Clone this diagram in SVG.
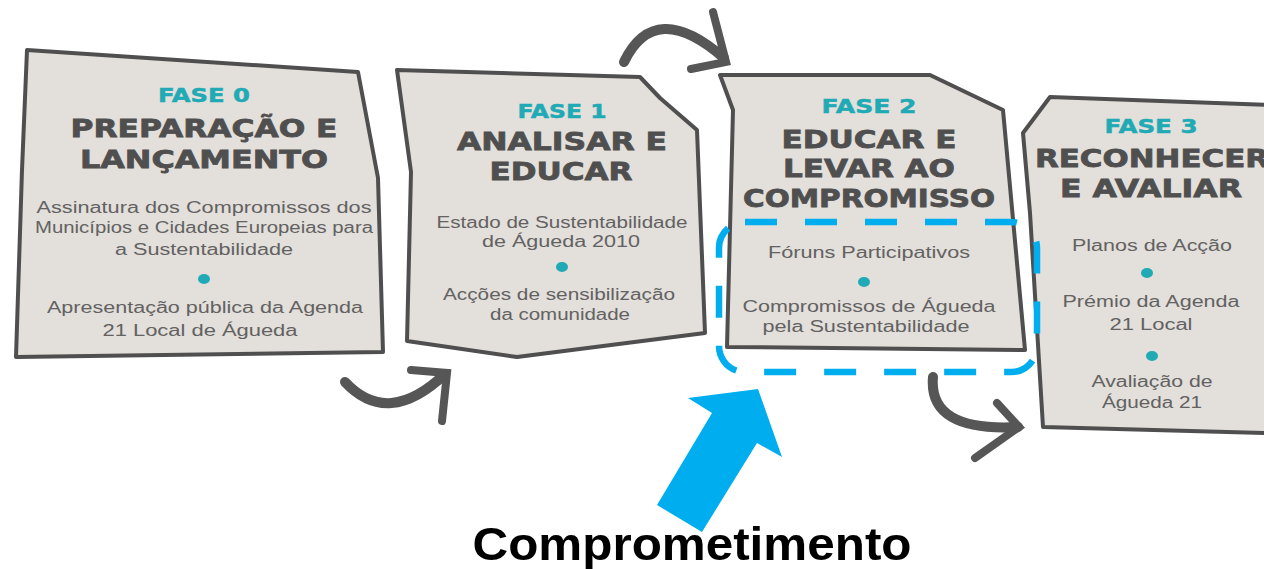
<svg xmlns="http://www.w3.org/2000/svg" width="1264" height="569" viewBox="0 0 1264 569">
<defs>
<style>
.card{fill:#e3dfda;stroke:#4f4f4f;stroke-width:4;stroke-linejoin:round}
.fase{font-family:"DejaVu Sans",sans-serif;font-weight:bold;font-size:20px;fill:#1faab5;stroke:#1faab5;stroke-width:0.5;text-anchor:middle}
.title{font-family:"DejaVu Sans",sans-serif;font-weight:bold;font-size:25.5px;fill:#4f4f4f;stroke:#4f4f4f;stroke-width:0.8;text-anchor:middle}
.body{font-family:"Liberation Sans",sans-serif;font-size:16px;fill:#626262;text-anchor:middle}
.dot{fill:#1faab5}
.arr{fill:none;stroke:#565656;stroke-width:10;stroke-linecap:round;stroke-linejoin:round}
.arrh{fill:none;stroke:#565656;stroke-width:8;stroke-linecap:round;stroke-linejoin:miter}
</style>
</defs>
<rect width="1264" height="569" fill="#ffffff"/>

<g id="connectors">
<path class="arr" d="M345,382 Q388,428 445,374"/>
<path class="arrh" d="M411,370 L447,373 L442,421"/>
<path class="arr" d="M624,62 Q655,-2 724,58"/>
<path class="arrh" d="M713,12 L726,62 L691,69"/>
<path class="arr" d="M933,377 Q928,432 1018,427"/>
<path class="arrh" d="M997,403 L1019,427 L975,458"/>
</g>

<g id="fase0">
<polygon class="card" points="27,50 358,72 378,178 383,352 16,357 22,170"/>
<text class="fase" x="204" y="102" textLength="92" lengthAdjust="spacingAndGlyphs">FASE 0</text>
<text class="title" x="204" y="137" textLength="267" lengthAdjust="spacingAndGlyphs">PREPARAÇÃO E</text>
<text class="title" x="204" y="168" textLength="248" lengthAdjust="spacingAndGlyphs">LANÇAMENTO</text>
<text class="body" x="204" y="213" textLength="335" lengthAdjust="spacingAndGlyphs">Assinatura dos Compromissos dos</text>
<text class="body" x="204" y="233" textLength="338" lengthAdjust="spacingAndGlyphs">Municípios e Cidades Europeias para</text>
<text class="body" x="204" y="255" textLength="178" lengthAdjust="spacingAndGlyphs">a Sustentabilidade</text>
<ellipse class="dot" cx="204" cy="279" rx="6" ry="5"/>
<text class="body" x="205" y="313" textLength="316" lengthAdjust="spacingAndGlyphs">Apresentação pública da Agenda</text>
<text class="body" x="200" y="336" textLength="195" lengthAdjust="spacingAndGlyphs">21 Local de Águeda</text>
</g>

<g id="fase1">
<polygon class="card" points="397,70 640,77 660,98 697,130 705,333 517,357 407,341 411,172"/>
<text class="fase" x="562" y="118" textLength="89" lengthAdjust="spacingAndGlyphs">FASE 1</text>
<text class="title" x="562" y="150" textLength="210" lengthAdjust="spacingAndGlyphs">ANALISAR E</text>
<text class="title" x="561" y="180" textLength="143" lengthAdjust="spacingAndGlyphs">EDUCAR</text>
<text class="body" x="562" y="228" textLength="251" lengthAdjust="spacingAndGlyphs">Estado de Sustentabilidade</text>
<text class="body" x="561" y="247" textLength="158" lengthAdjust="spacingAndGlyphs">de Águeda 2010</text>
<ellipse class="dot" cx="562" cy="267" rx="6" ry="5"/>
<text class="body" x="559" y="300" textLength="232" lengthAdjust="spacingAndGlyphs">Acções de sensibilização</text>
<text class="body" x="560" y="320" textLength="140" lengthAdjust="spacingAndGlyphs">da comunidade</text>
</g>

<g id="fase2">
<polygon class="card" points="720,75 930,75 1003,110 1025,350 727,347 733,110"/>
<text class="fase" x="869" y="113" textLength="95" lengthAdjust="spacingAndGlyphs">FASE 2</text>
<text class="title" x="869" y="148" textLength="175" lengthAdjust="spacingAndGlyphs">EDUCAR E</text>
<text class="title" x="869" y="177" textLength="172" lengthAdjust="spacingAndGlyphs">LEVAR AO</text>
<text class="title" x="869" y="207" textLength="252" lengthAdjust="spacingAndGlyphs">COMPROMISSO</text>
<text class="body" x="869" y="258" textLength="202" lengthAdjust="spacingAndGlyphs">Fóruns Participativos</text>
<ellipse class="dot" cx="864" cy="282" rx="6" ry="5"/>
<text class="body" x="869" y="312" textLength="253" lengthAdjust="spacingAndGlyphs">Compromissos de Águeda</text>
<text class="body" x="866" y="332" textLength="207" lengthAdjust="spacingAndGlyphs">pela Sustentabilidade</text>
</g>

<g id="fase3">
<polygon class="card" points="1050,97 1268,105 1268,433 1043,427 1030,213 1023,133"/>
<text class="fase" x="1151" y="133" textLength="93" lengthAdjust="spacingAndGlyphs">FASE 3</text>
<text class="title" x="1152" y="167" textLength="234" lengthAdjust="spacingAndGlyphs">RECONHECER</text>
<text class="title" x="1151" y="197" textLength="182" lengthAdjust="spacingAndGlyphs">E AVALIAR</text>
<text class="body" x="1152" y="251" textLength="160" lengthAdjust="spacingAndGlyphs">Planos de Acção</text>
<ellipse class="dot" cx="1147" cy="273" rx="6" ry="5"/>
<text class="body" x="1151" y="307" textLength="177" lengthAdjust="spacingAndGlyphs">Prémio da Agenda</text>
<text class="body" x="1151" y="330" textLength="83" lengthAdjust="spacingAndGlyphs">21 Local</text>
<ellipse class="dot" cx="1152" cy="356" rx="6" ry="5"/>
<text class="body" x="1152" y="387" textLength="121" lengthAdjust="spacingAndGlyphs">Avaliação de</text>
<text class="body" x="1152" y="408" textLength="100" lengthAdjust="spacingAndGlyphs">Águeda 21</text>
</g>

<g id="highlight">
<rect x="719" y="222" width="318" height="150" rx="26" ry="26" fill="none" stroke="#00aeef" stroke-width="6.5" stroke-dasharray="32 28"/>
<polygon fill="#00aeef" points="758,389 782,457 757,443 702,532 657,505 712,413 688,398"/>
</g>

<g id="label">
<text x="692" y="560" font-family="Liberation Sans, sans-serif" font-weight="bold" font-size="47" fill="#000000" text-anchor="middle" textLength="439" lengthAdjust="spacingAndGlyphs">Comprometimento</text>
</g>
</svg>
